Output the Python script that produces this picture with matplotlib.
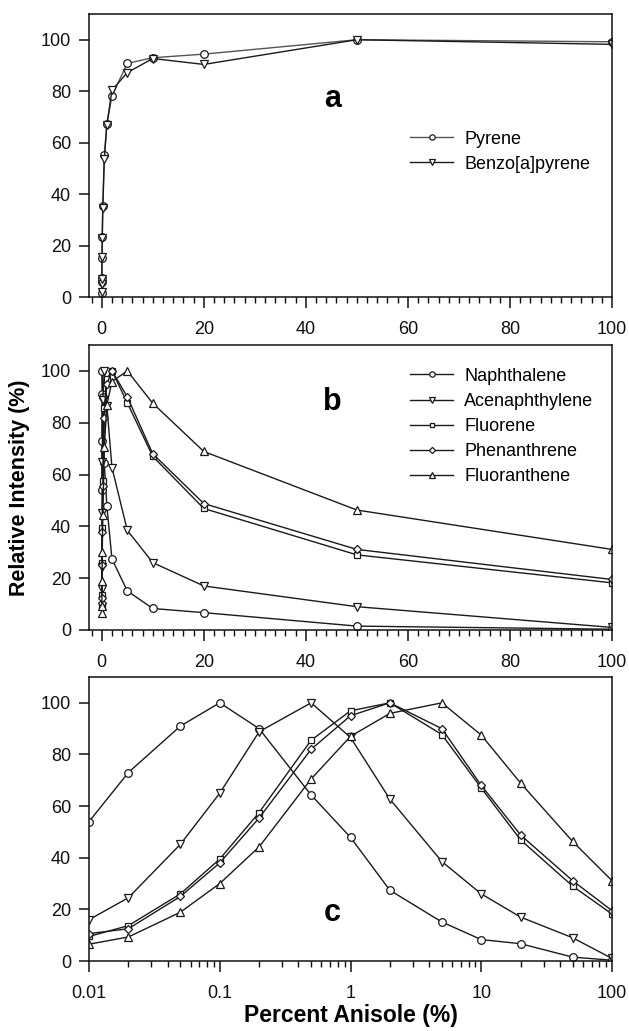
import numpy as np
import matplotlib
matplotlib.use('Agg')
from matplotlib import pyplot as plt
from matplotlib.ticker import MultipleLocator, FixedLocator, NullFormatter, LogLocator

plt.rcParams['font.family'] = ['Liberation Sans', 'DejaVu Sans']

# panel a
x_a = [0.005, 0.01, 0.02, 0.05, 0.1, 0.2, 0.5, 1, 2, 5, 10, 20, 50, 100]
pyrene = [1.7, 5.8, 7.4, 15.3, 23.2, 35.4, 55.3, 67.1, 78.2, 90.8, 93.0, 94.4, 100, 99.2]
benzo_a_pyrene = [2.0, 5.0, 7.0, 15.5, 23.0, 34.5, 53.5, 67.0, 80.4, 87.2, 92.7, 90.4, 100, 98.2]

# panels b and c
x_bc = [0.01, 0.02, 0.05, 0.1, 0.2, 0.5, 1, 2, 5, 10, 20, 50, 100]
naphthalene = [54, 73, 91, 100, 90, 64.3, 47.9, 27.4, 15.1, 8.3, 6.7, 1.5, 0.3]
acenaphthylene = [16, 24.5, 45.2, 65, 88.8, 100, 86.6, 62.7, 38.5, 26, 17, 9, 1]
fluorene = [9.5, 13.7, 26, 39.5, 57.5, 85.5, 96.9, 100, 87.7, 67, 46.9, 29, 18.2]
phenanthrene = [10.6, 12.5, 25, 38, 55.4, 82, 95, 100, 90, 68, 48.8, 31.1, 19.5]
fluoranthene = [6.5, 9.3, 18.9, 30, 44.2, 70.5, 87, 95.9, 100, 87.5, 68.9, 46.3, 31.1]

W, H = 629, 1031
fig = plt.figure(figsize=(W / 100, H / 100), dpi=100)

def box(top, bottom, left=89, right=612):
    return [left / W, (H - bottom) / H, (right - left) / W, (bottom - top) / H]

ax_a = fig.add_axes(box(14, 297))
ax_b = fig.add_axes(box(345, 630))
ax_c = fig.add_axes(box(677, 961))

lc = '#1a1a1a'
style = dict(color=lc, lw=1.0, markersize=5.5, markerfacecolor='white',
             markeredgecolor=lc, markeredgewidth=0.9)

ax_a.plot(x_a, pyrene, marker='o', label='Pyrene', **{**style, 'color': '#555555'})
ax_a.plot(x_a, benzo_a_pyrene, marker='v', label='Benzo[a]pyrene', **style)

series = [('Naphthalene', naphthalene, 'o'),
          ('Acenaphthylene', acenaphthylene, 'v'),
          ('Fluorene', fluorene, 's'),
          ('Phenanthrene', phenanthrene, 'D'),
          ('Fluoranthene', fluoranthene, '^')]
for name, vals, m in series:
    ms = 4.5 if m in ('s', 'D') else 5.5
    kw = {**style, 'markersize': ms}
    ax_b.plot(x_bc, vals, marker=m, label=name, **kw)
    ax_c.plot(x_bc, vals, marker=m, label=name, **kw)

for ax in (ax_a, ax_b, ax_c):
    ax.set_ylim(0, 110)
    ax.yaxis.set_major_locator(FixedLocator([0, 20, 40, 60, 80, 100]))
    for s in ax.spines.values():
        s.set_linewidth(1.1)
        s.set_color('#111111')
    ax.tick_params(which='major', direction='out', length=8, width=1.1,
                   labelsize=13, colors='#111111', pad=9)
    ax.tick_params(axis='y', which='major', length=7, pad=6)
    ax.tick_params(which='minor', direction='out', length=4, width=1.0, colors='#111111')
    ax.tick_params(axis='y', which='minor', left=False)

for ax in (ax_a, ax_b):
    ax.set_xlim(-2.5, 100)
    ax.xaxis.set_major_locator(FixedLocator([0, 20, 40, 60, 80, 100]))
    ax.xaxis.set_minor_locator(MultipleLocator(2))

ax_c.set_xscale('log')
ax_c.set_xlim(0.01, 100)
ax_c.xaxis.set_minor_locator(LogLocator(base=10, subs=np.arange(2, 10), numticks=20))
ax_c.xaxis.set_minor_formatter(NullFormatter())
ax_c.set_xticks([0.01, 0.1, 1, 10, 100])
ax_c.set_xticklabels(['0.01', '0.1', '1', '10', '100'])

leg_kw = dict(frameon=False, fontsize=13, handlelength=2.4, handletextpad=0.6,
              labelspacing=0.45, borderpad=0, borderaxespad=0, markerscale=0.7,
              loc='upper left')
ax_a.legend(bbox_to_anchor=(0.614, 0.588), **leg_kw)
ax_b.legend(bbox_to_anchor=(0.614, 0.92), **leg_kw)

ax_a.text(0.466, 0.70, 'a', transform=ax_a.transAxes, fontsize=22, fontweight='bold',
          ha='center', va='center')
ax_b.text(0.466, 0.80, 'b', transform=ax_b.transAxes, fontsize=22, fontweight='bold',
          ha='center', va='center')
ax_c.text(0.466, 0.17, 'c', transform=ax_c.transAxes, fontsize=22, fontweight='bold',
          ha='center', va='center')

ax_b.set_ylabel('Relative Intensity (%)', fontsize=15.5, fontweight='bold', labelpad=8)
ax_c.set_xlabel('Percent Anisole (%)', fontsize=16.5, fontweight='bold', labelpad=2)

fig.savefig('out.png', dpi=100)
